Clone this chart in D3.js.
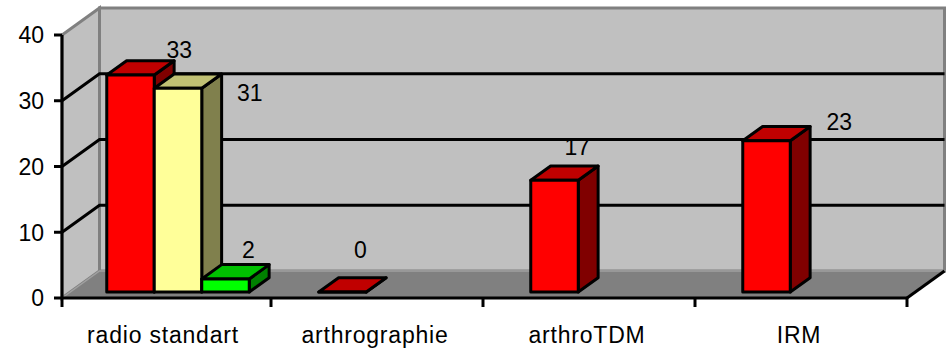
<!DOCTYPE html>
<html lang="fr">
<head>
    <meta charset="UTF-8">
    <title>Imagerie</title>
    <script src="https://cdn.jsdelivr.net/npm/d3@7"></script>
    <style>
        body {
            margin: 0;
            background: #fff;
        }

        text {
            font-family: "Liberation Sans", Arial, sans-serif;
            fill: #000;
        }
    </style>
</head>
<body>
<script>
    // data
    var categories = ["radio standart", "arthrographie", "arthroTDM", "IRM"];
    var seriesNames = ["serie1", "serie2", "serie3"];
    var serie1 = [33, 0, 17, 23];
    var serie2 = [31, null, null, null];
    var serie3 = [2, null, null, null];
    var yTicks = [0, 10, 20, 30, 40];
    var gridValues = [10, 20, 30];

    var width = 946;
    var height = 349;
    var depthX = 37.5, depthY = -27;     // offset of the back wall
    var zFront = 0.22, zBack = 0.75;     // bar depth inside the box
    var axisLeft = 62, axisRight = 907;

    var fronts = ["#ff0000", "#ffff99", "#00ff00"];
    var tops = ["#c00000", "#c0c073", "#00c000"];
    var sides = ["#800000", "#80804d", "#008000"];

    // label nudges (px) relative to top-back centre of the bar
    var labelNudge = [[29, -3], [52, 27], [3, -7], [-2, -20], [3, -11], [53, 3]];

    var svg = d3.select("body")
            .append("svg")
            .attr("width", width)
            .attr("height", height);

    var x0 = d3.scaleBand().domain(categories).range([59, 907]);
    var x1 = d3.scaleBand().domain(seriesNames).range([39.5, 39.5 + 3 * 47.5]);
    var y = d3.scaleLinear().domain([0, 40]).range([298, 35]);

    function P(x, v, z) {
        return [x + depthX * z, y(v) + depthY * z];
    }

    function poly(pts) {
        return "M" + pts.map(function (p) {
            return p[0] + "," + p[1];
        }).join("L") + "Z";
    }

    // walls
    svg.append("path")
            .attr("d", poly([P(axisLeft, 0, 0), P(axisLeft, 40, 0), P(axisLeft, 40, 1), P(axisLeft, 0, 1)]))
            .attr("fill", "#c0c0c0")
            .attr("stroke", "#808080")
            .attr("stroke-width", 3);

    svg.append("path")
            .attr("d", poly([P(axisLeft, 0, 1), P(axisLeft, 40, 1), P(axisRight, 40, 1), P(axisRight, 0, 1)]))
            .attr("fill", "#c0c0c0")
            .attr("stroke", "#808080")
            .attr("stroke-width", 3);

    // floor
    svg.append("path")
            .attr("d", poly([P(axisLeft, 0, 0), P(axisLeft, 0, 1), P(axisRight, 0, 1), P(axisRight, 0, 0)]))
            .attr("fill", "#808080")
            .attr("stroke", "#a0a0a0")
            .attr("stroke-width", 1.5);

    svg.append("line")
            .attr("x1", P(axisRight, 0, 0)[0]).attr("y1", P(axisRight, 0, 0)[1])
            .attr("x2", P(axisRight, 0, 1)[0]).attr("y2", P(axisRight, 0, 1)[1])
            .attr("stroke", "#000")
            .attr("stroke-width", 3);

    // gridlines
    svg.append("g")
            .selectAll("path")
            .data(gridValues)
            .enter()
            .append("path")
            .attr("d", function (d) {
                var a = P(axisLeft, d, 0), b = P(axisLeft, d, 1), c = P(axisRight, d, 1);
                return "M" + a + "L" + b + "L" + c;
            })
            .attr("fill", "none")
            .attr("stroke", "#000")
            .attr("stroke-width", 3);

    // y axis
    svg.append("line")
            .attr("x1", axisLeft).attr("x2", axisLeft)
            .attr("y1", y(0)).attr("y2", y(40))
            .attr("stroke", "#000")
            .attr("stroke-width", 3);

    var yt = svg.append("g").selectAll("g").data(yTicks).enter().append("g");
    yt.append("line")
            .attr("x1", axisLeft - 8).attr("x2", axisLeft)
            .attr("y1", function (d) { return y(d); })
            .attr("y2", function (d) { return y(d); })
            .attr("stroke", "#000")
            .attr("stroke-width", 3);
    yt.append("text")
            .attr("x", 44)
            .attr("y", function (d) { return y(d); })
            .attr("dy", "0.36em")
            .attr("text-anchor", "end")
            .style("font-size", "23px")
            .text(function (d) { return d; });

    // x axis
    svg.append("line")
            .attr("x1", axisLeft).attr("x2", axisRight)
            .attr("y1", y(0)).attr("y2", y(0))
            .attr("stroke", "#000")
            .attr("stroke-width", 3);

    var xTicks = categories.map(function (c) { return Math.max(axisLeft, x0(c)); }).concat([axisRight]);
    svg.append("g").selectAll("line").data(xTicks).enter().append("line")
            .attr("x1", function (d) { return d; })
            .attr("x2", function (d) { return d; })
            .attr("y1", y(0)).attr("y2", y(0) + 9)
            .attr("stroke", "#000")
            .attr("stroke-width", 3);

    svg.append("g").selectAll("text").data(categories).enter().append("text")
            .attr("x", function (d) { return x0(d) + x0.bandwidth() / 2 - 2; })
            .attr("y", 343)
            .attr("text-anchor", "middle")
            .style("font-size", "23px")
            .style("letter-spacing", "0.8px")
            .text(function (d) { return d; });

    // bars
    var allSeries = [serie1, serie2, serie3];
    var bars = [];
    categories.forEach(function (c, ci) {
        allSeries.forEach(function (s, si) {
            if (s[ci] !== null) {
                bars.push({cat: c, s: si, v: s[ci]});
            }
        });
    });

    var bg = svg.append("g")
            .selectAll("g")
            .data(bars)
            .enter()
            .append("g")
            .attr("stroke", "#000")
            .attr("stroke-width", 3)
            .attr("stroke-linejoin", "round");

    function xl(d) { return x0(d.cat) + x1(seriesNames[d.s]); }
    function xr(d) { return xl(d) + x1.bandwidth(); }

    // side
    bg.append("path")
            .attr("fill", function (d) { return sides[d.s]; })
            .attr("d", function (d) {
                return poly([P(xr(d), 0, zFront), P(xr(d), 0, zBack), P(xr(d), d.v, zBack), P(xr(d), d.v, zFront)]);
            });
    // top
    bg.append("path")
            .attr("fill", function (d) { return tops[d.s]; })
            .attr("d", function (d) {
                return poly([P(xl(d), d.v, zFront), P(xl(d), d.v, zBack), P(xr(d), d.v, zBack), P(xr(d), d.v, zFront)]);
            });
    // front
    bg.append("path")
            .attr("fill", function (d) { return fronts[d.s]; })
            .attr("d", function (d) {
                return poly([P(xl(d), 0, zFront), P(xl(d), d.v, zFront), P(xr(d), d.v, zFront), P(xr(d), 0, zFront)]);
            });

    // value labels
    svg.append("g").selectAll("text").data(bars).enter().append("text")
            .attr("x", function (d, i) {
                return (xl(d) + xr(d)) / 2 + depthX * zBack + labelNudge[i][0];
            })
            .attr("y", function (d, i) {
                return y(d.v) + depthY * zBack + labelNudge[i][1];
            })
            .attr("text-anchor", "middle")
            .style("font-size", "23px")
            .text(function (d) { return d.v; });
</script>
</body>
</html>
